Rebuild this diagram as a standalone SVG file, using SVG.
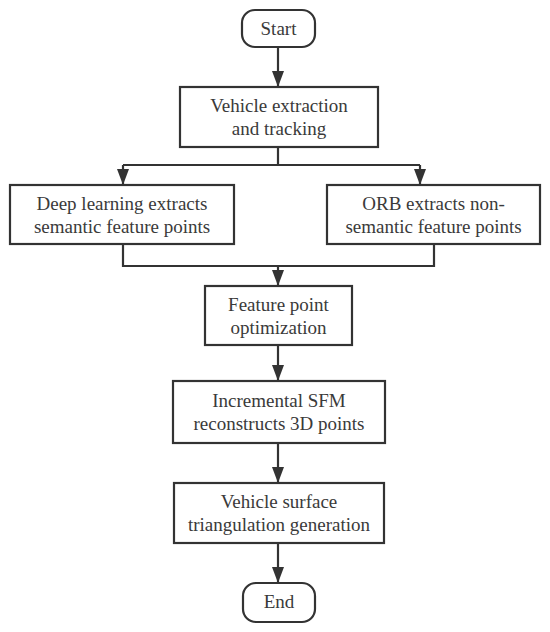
<svg xmlns="http://www.w3.org/2000/svg" width="550" height="632" viewBox="0 0 550 632">
<defs>
<marker id="ah" viewBox="0 0 16 12" refX="16" refY="6" markerWidth="16" markerHeight="12" markerUnits="userSpaceOnUse" orient="auto">
<path d="M0,0 L16,6 L0,12 z" fill="#333"/>
</marker>
<style>
.box{fill:#fff;stroke:#333;stroke-width:2.2}
.t{font-family:'Liberation Serif','DejaVu Serif',serif;font-size:19px;fill:#3a3a3a;text-anchor:middle}
.c{fill:none;stroke:#333;stroke-width:2.2}
</style>
</defs>
<rect width="550" height="632" fill="#fff"/>
<g id="connectors">
<path class="c" d="M278,47 V87" marker-end="url(#ah)"/>
<path class="c" d="M278,147 V165 M123,165 H420"/>
<path class="c" d="M123,165 V185" marker-end="url(#ah)"/>
<path class="c" d="M420,165 V185" marker-end="url(#ah)"/>
<path class="c" d="M123,244 V266 H434 V244"/>
<path class="c" d="M278,266 V286" marker-end="url(#ah)"/>
<path class="c" d="M278,345 V381" marker-end="url(#ah)"/>
<path class="c" d="M278,443 V483" marker-end="url(#ah)"/>
<path class="c" d="M278,543 V583" marker-end="url(#ah)"/>
</g>
<g id="start">
<rect class="box" x="242" y="10" width="73" height="37" rx="13"/>
<text class="t" x="278.5" y="34.5" font-family="Liberation Serif, serif">Start</text>
</g>
<g id="vehicle-extraction">
<rect class="box" x="180" y="87" width="198" height="60"/>
<text class="t" x="279" y="112">Vehicle extraction</text>
<text class="t" x="279" y="135">and tracking</text>
</g>
<g id="deep-learning">
<rect class="box" x="10" y="185" width="224" height="59"/>
<text class="t" x="122" y="210">Deep learning extracts</text>
<text class="t" x="122" y="233">semantic feature points</text>
</g>
<g id="orb">
<rect class="box" x="327" y="185" width="213" height="59"/>
<text class="t" x="433.5" y="210">ORB extracts non-</text>
<text class="t" x="433.5" y="233">semantic feature points</text>
</g>
<g id="feature-opt">
<rect class="box" x="205" y="286" width="147" height="59"/>
<text class="t" x="278.5" y="311">Feature point</text>
<text class="t" x="278.5" y="334">optimization</text>
</g>
<g id="sfm">
<rect class="box" x="173" y="381" width="212" height="62"/>
<text class="t" x="279" y="407">Incremental SFM</text>
<text class="t" x="279" y="430">reconstructs 3D points</text>
</g>
<g id="triangulation">
<rect class="box" x="174" y="483" width="210" height="60"/>
<text class="t" x="279" y="508">Vehicle surface</text>
<text class="t" x="279" y="531">triangulation generation</text>
</g>
<g id="end">
<rect class="box" x="243" y="583" width="72" height="39" rx="13"/>
<text class="t" x="279" y="608">End</text>
</g>
</svg>
